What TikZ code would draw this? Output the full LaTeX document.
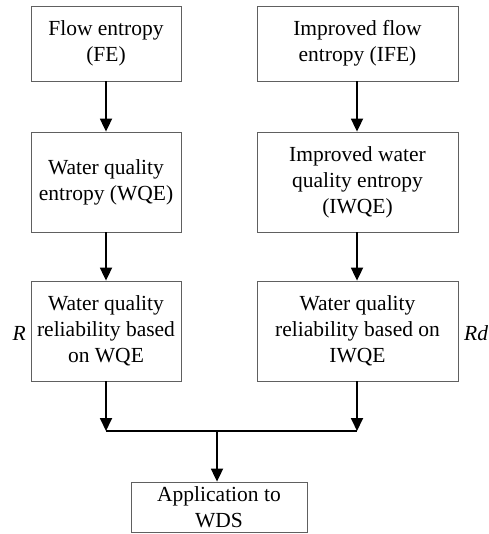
\documentclass[tikz,border=0pt]{standalone}
\usepackage{fontspec}
\setmainfont{Liberation Serif}
\usetikzlibrary{arrows.meta}

\begin{document}
\begin{tikzpicture}[x=1pt, y=-1pt, every node/.style={font=\rmfamily\fontsize{21.5}{26}\selectfont},
    box/.style={draw=gray!75!black, line width=0.8pt, align=center, inner sep=0pt},
    flow/.style={-{Triangle[length=13pt,width=12pt]}, line width=1.8pt}]
  \useasboundingbox (0,0) rectangle (488,534);
  % left column
  \node[box, minimum width=150pt, minimum height=75pt] (fe) at (106,43.5) {Flow entropy\\(FE)};
  \node[box, minimum width=150pt, minimum height=100pt] (wqe) at (106,182) {Water quality\\entropy (WQE)};
  \node[box, minimum width=150pt, minimum height=100pt] (rel) at (106,331) {Water quality\\reliability based\\on WQE};
  % right column
  \node[box, minimum width=201pt, minimum height=75pt] (ife) at (357.5,43.5) {Improved flow\\entropy (IFE)};
  \node[box, minimum width=201pt, minimum height=100pt] (iwqe) at (357.5,182) {Improved water\\quality entropy\\(IWQE)};
  \node[box, minimum width=201pt, minimum height=100pt] (irel) at (357.5,331) {Water quality\\reliability based on\\IWQE};
  % bottom
  \node[box, minimum width=176pt, minimum height=50pt] (app) at (219,507) {Application to\\WDS};
  \node[anchor=east, inner sep=0pt] (r) at (26,333) {\itshape R};
  \node[anchor=west, inner sep=0pt] (rd) at (464,333) {\itshape Rd};
  % connectors
  \coordinate (jl) at (106,431);
  \coordinate (jr) at (357,431);
  \coordinate (jm) at (217,431);
  \draw[flow] (fe) -- (wqe);
  \draw[flow] (wqe) -- (rel);
  \draw[flow] (ife.south -| jr) -- (iwqe.north -| jr);
  \draw[flow] (iwqe.south -| jr) -- (irel.north -| jr);
  \draw[flow] (rel) -- (jl);
  \draw[flow] (irel.south -| jr) -- (jr);
  \draw[line width=1.8pt] (jl) -- (jr);
  \draw[flow] (jm) -- (jm |- app.north);
\end{tikzpicture}
\end{document}
